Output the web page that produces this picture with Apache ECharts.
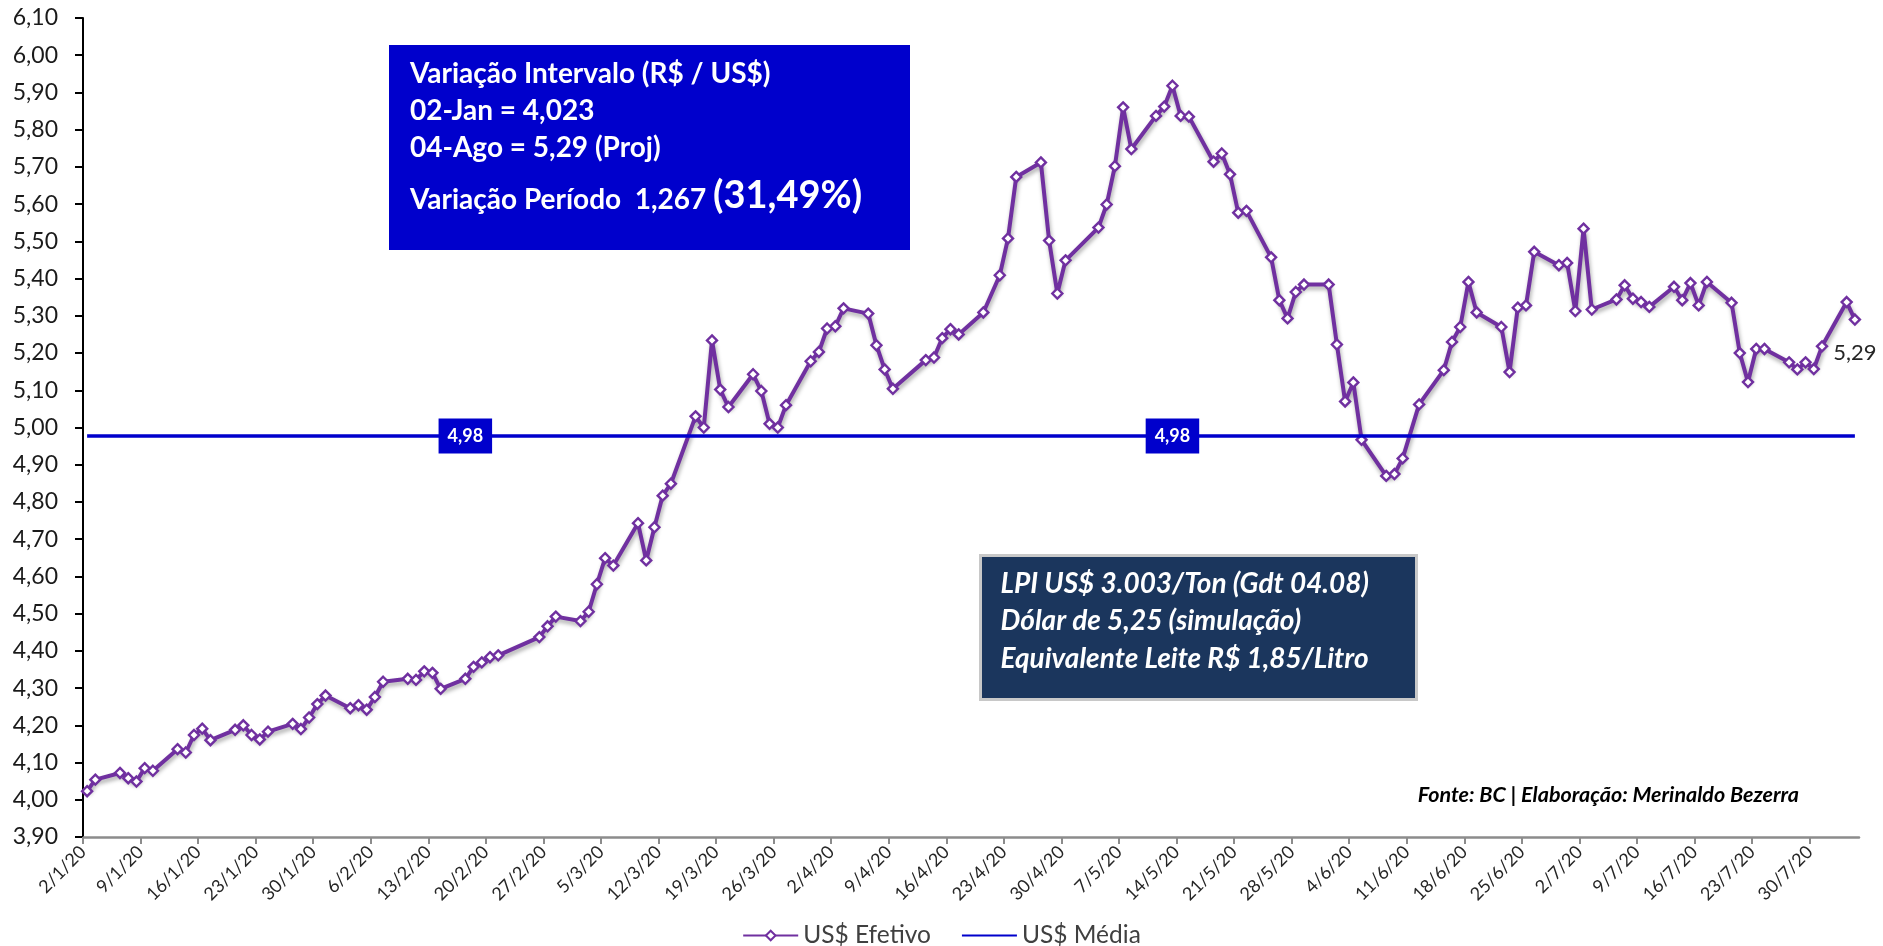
<!DOCTYPE html>
<html>
<head>
<meta http-equiv="Content-Type" content="text/html;charset=utf-8" />
<title>Dólar 2020</title>
<script src="https://cdn.jsdelivr.net/npm/echarts@6/dist/echarts.min.js"></script>
<style>
  html, body { margin: 0; padding: 0; background: #fff; }
  #container { width: 1883px; height: 946px; }
</style>
</head>
<body>
<div id="container"></div>
<script type="text/javascript">
// dias úteis (d/m de 2020) e cotação
var dates = [
  '2/1','3/1','6/1','7/1','8/1','9/1','10/1','13/1','14/1','15/1','16/1','17/1','20/1','21/1','22/1','23/1','24/1','27/1','28/1','29/1','30/1','31/1',
  '3/2','4/2','5/2','6/2','7/2','10/2','11/2','12/2','13/2','14/2','17/2','18/2','19/2','20/2','21/2','26/2','27/2','28/2',
  '2/3','3/3','4/3','5/3','6/3','9/3','10/3','11/3','12/3','13/3','16/3','17/3','18/3','19/3','20/3','23/3','24/3','25/3','26/3','27/3','30/3','31/3',
  '1/4','2/4','3/4','6/4','7/4','8/4','9/4','13/4','14/4','15/4','16/4','17/4','20/4','22/4','23/4','24/4','27/4','28/4','29/4','30/4',
  '4/5','5/5','6/5','7/5','8/5','11/5','12/5','13/5','14/5','15/5','18/5','19/5','20/5','21/5','22/5','25/5','26/5','27/5','28/5','29/5',
  '1/6','2/6','3/6','4/6','5/6','8/6','9/6','10/6','12/6','15/6','16/6','17/6','18/6','19/6','22/6','23/6','24/6','25/6','26/6','29/6','30/6',
  '1/7','2/7','3/7','6/7','7/7','8/7','9/7','10/7','13/7','14/7','15/7','16/7','17/7','20/7','21/7','22/7','23/7','24/7','27/7','28/7','29/7','30/7','31/7',
  '3/8','4/8'
];
var efetivo = [
  4.023,4.054,4.072,4.058,4.049,4.085,4.078,4.136,4.127,4.174,4.191,4.160,4.188,4.200,4.174,4.162,4.183,4.204,4.190,4.221,4.257,4.280,
  4.246,4.254,4.242,4.276,4.317,4.325,4.322,4.345,4.341,4.298,4.325,4.357,4.369,4.383,4.388,4.437,4.466,4.492,
  4.480,4.505,4.579,4.649,4.629,4.743,4.643,4.732,4.817,4.849,5.030,5.000,5.234,5.102,5.055,5.143,5.098,5.010,5.000,5.060,5.178,5.203,
  5.266,5.272,5.320,5.306,5.221,5.156,5.104,5.181,5.188,5.240,5.264,5.250,5.309,5.409,5.508,5.673,5.712,5.502,5.360,5.449,
  5.537,5.599,5.702,5.860,5.748,5.837,5.862,5.918,5.837,5.835,5.714,5.736,5.680,5.577,5.582,5.457,5.342,5.293,5.364,5.384,
  5.384,5.223,5.070,5.121,4.967,4.870,4.875,4.917,5.062,5.154,5.230,5.270,5.391,5.309,5.270,5.149,5.322,5.328,5.472,5.436,5.442,
  5.313,5.534,5.317,5.344,5.382,5.346,5.337,5.324,5.378,5.342,5.388,5.328,5.391,5.335,5.200,5.122,5.211,5.211,5.175,5.156,5.175,5.157,5.218,
  5.337,5.290
];
var mediaValor = 4.977;
var mediaLabelDates = ['17/2', '13/5'];
var xTickLabels = ['2/1/20','9/1/20','16/1/20','23/1/20','30/1/20','6/2/20','13/2/20','20/2/20','27/2/20','5/3/20','12/3/20','19/3/20','26/3/20',
  '2/4/20','9/4/20','16/4/20','23/4/20','30/4/20','7/5/20','14/5/20','21/5/20','28/5/20','4/6/20','11/6/20','18/6/20','25/6/20',
  '2/7/20','9/7/20','16/7/20','23/7/20','30/7/20'];
var yMin = 3.9, yMax = 6.1, yStep = 0.1;

var DAY = 86400000;
var base = Date.UTC(2020, 0, 2);
function dayOf(s) {
  var p = s.split('/');
  return Math.round((Date.UTC(2020, +p[1] - 1, +p[0]) - base) / DAY);
}
function fmt(v) { return v.toFixed(2).replace('.', ','); }

var xTicks = xTickLabels.map(dayOf);
var efetivoData = dates.map(function (d, i) {
  var item = { value: [dayOf(d) + 0.5, efetivo[i]] };
  if (i === dates.length - 1) {
    item.label = { show: true };
  }
  return item;
});
var mediaData = dates.map(function (d) {
  var item = { value: [dayOf(d) + 0.5, mediaValor] };
  if (mediaLabelDates.indexOf(d) >= 0) {
    item.symbol = 'rect';
    item.symbolSize = 1;
    item.label = { show: true };
  }
  return item;
});

var chart = echarts.init(document.getElementById('container'));
var fontMain = 'Lato, "Open Sans", sans-serif';

var option = {
  backgroundColor: '#ffffff',
  animation: false,
  textStyle: { fontFamily: fontMain },
  grid: { left: 83, right: 24, top: 18, bottom: 109 },
  legend: {
    left: 'center',
    top: 918,
    itemWidth: 55,
    itemHeight: 12,
    itemGap: 30,
    textStyle: { fontSize: 24.5, color: '#404040', fontFamily: fontMain },
    data: [
      { name: 'US$ Efetivo' },
      { name: 'US$ Média', itemStyle: { opacity: 0 } }
    ]
  },
  xAxis: {
    type: 'value',
    min: 0,
    max: 216,
    interval: 7,
    splitLine: { show: false },
    axisLine: { lineStyle: { color: '#8c8c8c', width: 2.5 } },
    axisTick: { show: true, length: 7, lineStyle: { color: '#8c8c8c', width: 2 }, customValues: xTicks },
    axisLabel: {
      rotate: 45,
      margin: 12,
      fontSize: 18,
      color: '#262626',
      customValues: xTicks,
      formatter: function (v) {
        var d = new Date(base + v * DAY);
        return d.getUTCDate() + '/' + (d.getUTCMonth() + 1) + '/20';
      }
    }
  },
  yAxis: {
    type: 'value',
    min: yMin,
    max: yMax,
    interval: yStep,
    splitLine: { show: false },
    axisLine: { show: true, lineStyle: { color: '#000', width: 2 } },
    axisTick: { show: true, length: 8, lineStyle: { color: '#000', width: 2 } },
    axisLabel: { fontSize: 23, color: '#1a1a1a', margin: 25, formatter: fmt }
  },
  series: [
    {
      name: 'US$ Média',
      type: 'line',
      data: mediaData,
      symbol: 'none',
      z: 3,
      lineStyle: { color: '#0000cc', width: 3.5 },
      itemStyle: { color: '#0000cc' },
      label: {
        show: false,
        position: 'inside',
        formatter: function (p) { return fmt(p.value[1]); },
        backgroundColor: '#0000cc',
        color: '#fff',
        fontWeight: 'bold',
        fontSize: 18,
        padding: [9, 9, 8, 9]
      },
      labelLayout: { hideOverlap: false }
    },
    {
      name: 'US$ Efetivo',
      type: 'line',
      data: efetivoData,
      symbol: 'diamond',
      symbolSize: 10,
      showAllSymbol: true,
      z: 2,
      lineStyle: { color: '#7030a0', width: 4, shadowColor: 'rgba(0,0,0,0.35)', shadowBlur: 4, shadowOffsetX: 1, shadowOffsetY: 3 },
      itemStyle: { color: '#ffffff', borderColor: '#7030a0', borderWidth: 2.4 },
      label: {
        show: false,
        position: 'bottom',
        distance: 16,
        fontSize: 22,
        color: '#262626',
        formatter: function (p) { return fmt(p.value[1]); }
      }
    }
  ],
  graphic: [
    {
      type: 'group',
      left: 389,
      top: 45,
      children: [
        { type: 'rect', shape: { x: 0, y: 0, width: 521, height: 205 }, style: { fill: '#0000cc' } },
        { type: 'text', x: 21, y: 29, style: { text: 'Variação Intervalo (R$ / US$)', fill: '#fff', font: 'bold 28px Lato', textVerticalAlign: 'middle' } },
        { type: 'text', x: 21, y: 66, style: { text: '02-Jan = 4,023', fill: '#fff', font: 'bold 28px Lato', textVerticalAlign: 'middle' } },
        { type: 'text', x: 21, y: 103, style: { text: '04-Ago = 5,29 (Proj)', fill: '#fff', font: 'bold 28px Lato', textVerticalAlign: 'middle' } },
        {
          type: 'text', x: 21, y: 151,
          style: {
            text: '{a|Variação Período  1,267 }{b|(31,49%)}',
            fill: '#fff',
            textVerticalAlign: 'middle',
            rich: {
              a: { fontFamily: 'Lato', fontWeight: 'bold', fontSize: 28, fill: '#fff', color: '#fff', padding: [8, 0, 0, 0] },
              b: { fontFamily: 'Lato', fontWeight: 'bold', fontSize: 38, fill: '#fff', color: '#fff' }
            }
          }
        }
      ]
    },
    {
      type: 'group',
      left: 979,
      top: 554,
      children: [
        { type: 'rect', shape: { x: 0, y: 0, width: 436, height: 144 }, style: { fill: '#1b365d', stroke: '#c8c8c8', lineWidth: 3 } },
        { type: 'text', x: 20, y: 28, style: { text: 'LPI US$ 3.003/Ton (Gdt 04.08)', fill: '#fff', font: 'italic bold 28px Lato', textVerticalAlign: 'middle' } },
        { type: 'text', x: 20, y: 65, style: { text: 'Dólar de 5,25 (simulação)', fill: '#fff', font: 'italic bold 28px Lato', textVerticalAlign: 'middle' } },
        { type: 'text', x: 20, y: 103, style: { text: 'Equivalente Leite R$ 1,85/Litro', fill: '#fff', font: 'italic bold 28px Lato', textVerticalAlign: 'middle' } }
      ]
    },
    {
      type: 'text',
      right: 84,
      top: 784,
      style: { text: 'Fonte: BC | Elaboração: Merinaldo Bezerra', fill: '#000', font: 'italic bold 21.5px Lato' }
    }
  ]
};

chart.setOption(option);
</script>
</body>
</html>
